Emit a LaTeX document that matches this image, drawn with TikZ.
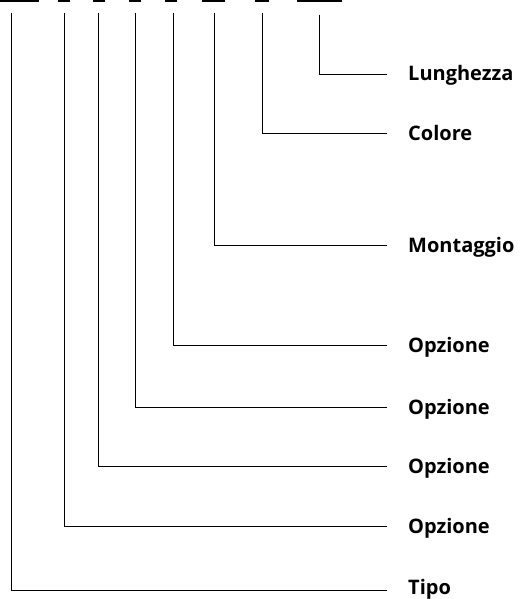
\documentclass[tikz,border=0pt]{standalone}
\usepackage{fontspec}
\setmainfont{Open Sans}
\usetikzlibrary{positioning}

\begin{document}
\begin{tikzpicture}[
    x=1pt, y=-1pt,
    every node/.style={font=\fontsize{20}{24}\selectfont\bfseries},
    leader/.style={black,line width=0.9pt},
    codebar/.style={fill=black}
  ]
    \useasboundingbox (0,0) rectangle (524,599);
    % code segments along the top
    \foreach \xa/\xb in {0/38.5, 58/70, 93/105, 129/141, 165/177, 202/225, 255/269, 297/342}{
      \fill[codebar] (\xa,0) rectangle (\xb,2.2);
    }
    % field labels with leaders
    \foreach \n/\x/\ytop/\y/\dy/\txt in {
      1/319.3/15/74/7/Lunghezza,
      2/262.7/13.3/133/7/Colore,
      3/214/12.7/245/7/Montaggio,
      4/173/12.7/345/7/Opzione,
      5/135.7/12.7/407/7/Opzione,
      6/98/12.7/466/7/Opzione,
      7/64.7/12.7/526.5/7/Opzione,
      8/11.7/12.7/590/4/Tipo
    }{
      \coordinate (top-\n) at (\x,\ytop);
      \node[anchor=base west,inner sep=0pt] (lbl-\n) at (408,\y+\dy) {\txt};
      \coordinate (end-\n) at (387,\y);
      \draw[leader] (top-\n) |- (end-\n);
    }
  \end{tikzpicture}
\end{document}
